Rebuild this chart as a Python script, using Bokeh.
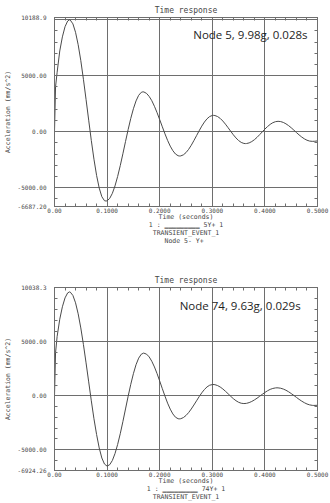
from bokeh.plotting import figure
from bokeh.models import Range1d, FixedTicker, LinearAxis, Label, CustomJSTickFormatter
from bokeh.layouts import column
from bokeh.embed import file_html
from bokeh.resources import INLINE

# ---------------- data ----------------
x_ticks = [0.0, 0.1, 0.2, 0.3, 0.4, 0.5]
x_tick_labels = ["0.00", "0.1000", "0.2000", "0.3000", "0.4000", "0.5000"]
x_minor = [0.02, 0.04, 0.06, 0.08, 0.12, 0.14, 0.16, 0.18, 0.22, 0.24, 0.26, 0.28,
           0.32, 0.34, 0.36, 0.38, 0.42, 0.44, 0.46, 0.48]
y_grid = [-5000, 0, 5000, 10000]
y_minor = [-6000, -4000, -3000, -2000, -1000, 1000, 2000, 3000, 4000, 6000, 7000, 8000, 9000]

y_ticks_node5 = [-6687.2, -5000, 0, 5000, 10188.9]
y_labels_node5 = ["-6687.20", "-5000.00", "0.00", "5000.00", "10188.9"]
y_ticks_node74 = [-6924.26, -5000, 0, 5000, 10038.3]
y_labels_node74 = ["-6924.26", "-5000.00", "0.00", "5000.00", "10038.3"]

time_node5 = [0, 0.002, 0.005, 0.010, 0.015, 0.020, 0.025, 0.0285, 0.030, 0.035, 0.040, 0.045,
              0.050, 0.055, 0.060, 0.065, 0.070, 0.075, 0.080, 0.085, 0.090, 0.095, 0.098, 0.100,
              0.105, 0.110, 0.115, 0.120, 0.125, 0.130, 0.135, 0.140, 0.145, 0.150, 0.155, 0.160,
              0.165, 0.168, 0.170, 0.175, 0.180, 0.185, 0.190, 0.195, 0.200, 0.205, 0.210, 0.215,
              0.220, 0.225, 0.230, 0.235, 0.238, 0.240, 0.245, 0.250, 0.255, 0.260, 0.265, 0.270,
              0.275, 0.280, 0.285, 0.290, 0.295, 0.300, 0.302, 0.305, 0.310, 0.315, 0.320, 0.325,
              0.330, 0.335, 0.340, 0.345, 0.350, 0.355, 0.360, 0.363, 0.365, 0.370, 0.375, 0.380,
              0.385, 0.390, 0.395, 0.400, 0.405, 0.410, 0.415, 0.420, 0.425, 0.430, 0.435, 0.440,
              0.445, 0.450, 0.455, 0.460, 0.465, 0.470, 0.475, 0.480, 0.485, 0.490, 0.495, 0.500]
accel_node5 = [0, 4000, 5300, 7200, 8460, 9365, 9875, 9980, 9960, 9620, 8870, 7760,
               6340, 4670, 2870, 1020, -800, -2460, -3910, -5040, -5810, -6170, -6200, -6180,
               -5960, -5510, -4850, -4010, -3040, -1980, -890, 180, 1180, 2040, 2740, 3240,
               3510, 3550, 3540, 3410, 3140, 2760, 2260, 1690, 1070, 430, -200, -785,
               -1295, -1705, -2000, -2155, -2180, -2170, -2075, -1875, -1585, -1220, -805, -365,
               75, 490, 855, 1145, 1345, 1440, 1450, 1435, 1345, 1180, 945, 665,
               350, 30, -285, -565, -800, -965, -1055, -1070, -1065, -1010, -890, -725,
               -515, -275, -25, 225, 450, 645, 795, 885, 920, 895, 820, 695,
               535, 345, 135, -85, -295, -485, -645, -770, -845, -870, -860, -830]

time_node74 = [0, 0.002, 0.005, 0.010, 0.015, 0.020, 0.025, 0.0285, 0.030, 0.035, 0.040, 0.045,
               0.050, 0.055, 0.060, 0.065, 0.070, 0.075, 0.080, 0.085, 0.090, 0.095, 0.100, 0.105,
               0.110, 0.115, 0.120, 0.125, 0.130, 0.135, 0.140, 0.145, 0.150, 0.155, 0.160, 0.165,
               0.1695, 0.175, 0.180, 0.185, 0.190, 0.195, 0.200, 0.205, 0.210, 0.215, 0.220, 0.225,
               0.230, 0.235, 0.237, 0.240, 0.245, 0.250, 0.255, 0.260, 0.265, 0.270, 0.275, 0.280,
               0.285, 0.290, 0.295, 0.301, 0.305, 0.310, 0.315, 0.320, 0.325, 0.330, 0.335, 0.340,
               0.345, 0.350, 0.355, 0.360, 0.365, 0.370, 0.375, 0.380, 0.385, 0.390, 0.395, 0.400,
               0.405, 0.410, 0.415, 0.420, 0.423, 0.425, 0.430, 0.435, 0.440, 0.445, 0.450, 0.455,
               0.460, 0.465, 0.470, 0.475, 0.480, 0.485, 0.490, 0.493, 0.500]
accel_node74 = [0, 4000, 5500, 7100, 8250, 9075, 9535, 9630, 9610, 9300, 8620, 7600,
                6290, 4750, 3055, 1290, -465, -2125, -3585, -4835, -5765, -6325, -6520, -6385,
                -5995, -5360, -4520, -3515, -2395, -1220, -50, 1065, 2050, 2880, 3490, 3855,
                3960, 3860, 3605, 3200, 2675, 2055, 1370, 660, -30, -680, -1235, -1680,
                -1985, -2125, -2140, -2125, -2020, -1825, -1555, -1225, -855, -465, -80, 275,
                585, 825, 980, 1050, 1030, 950, 815, 635, 420, 190, -45, -265,
                -455, -600, -690, -720, -700, -630, -525, -385, -225, -45, 135, 310,
                465, 595, 680, 730, 740, 735, 700, 625, 515, 375, 210, 35,
                -150, -330, -495, -640, -760, -840, -885, -893, -880]

# ---------------- styling ----------------
MONO = "DejaVu Sans Mono"
TXT = "#474747"
GRID = "#6e6e6e"
CURVE = "#4a4a4a"
LEFT, RIGHT = 52, 13
PX_PER_S = 530.0
RULE = "\u2581" * 9   # legend line sample drawn with a low bar glyph


def label_formatter(vals, labels):
    return CustomJSTickFormatter(
        args=dict(tvals=vals, tlabels=labels),
        code="const i = tvals.findIndex(v => Math.abs(v - tick) < 1e-6); return i >= 0 ? tlabels[i] : '';")


def blank_formatter():
    return CustomJSTickFormatter(code="return '';")


def make_chart(t, a, y_ticks, y_labels, fig_h, frame_top, frame_h, title_standoff,
               x_label_lines, note, note_px, note_py):
    y_lo, y_hi = y_ticks[0], y_ticks[-1]
    scale = (y_hi - y_lo) / frame_h

    p = figure(width=330, height=fig_h, output_backend="svg", toolbar_location=None,
               x_range=Range1d(0, 0.5), y_range=Range1d(y_lo, y_hi),
               x_axis_location=None, y_axis_location=None,
               min_border_left=LEFT, min_border_right=RIGHT,
               min_border_top=frame_top, min_border_bottom=fig_h - frame_top - frame_h)
    p.outline_line_color = GRID
    p.outline_line_width = 1
    p.background_fill_color = "white"
    p.border_fill_color = "white"

    p.title.text = "Time response"
    p.title.align = "center"
    p.title.vertical_align = "top"
    p.title.text_font = MONO
    p.title.text_font_size = "8px"
    p.title.text_font_style = "normal"
    p.title.text_color = TXT
    p.title.standoff = title_standoff

    def style_axis(ax):
        ax.axis_line_color = GRID
        ax.major_tick_line_color = GRID
        ax.minor_tick_line_color = GRID
        ax.major_tick_in = 3
        ax.major_tick_out = 0
        ax.minor_tick_in = 3
        ax.minor_tick_out = 0
        ax.major_label_text_font = MONO
        ax.major_label_text_font_size = "6px"
        ax.major_label_text_color = TXT

    xt = FixedTicker(ticks=x_ticks, minor_ticks=x_minor)
    yt = FixedTicker(ticks=y_ticks, minor_ticks=y_minor)

    left = LinearAxis(ticker=yt, formatter=label_formatter(y_ticks, y_labels),
                      axis_label="Acceleration (mm/s^2)")
    style_axis(left)
    left.major_label_standoff = 8
    left.axis_label_text_font = MONO
    left.axis_label_text_font_size = "6.5px"
    left.axis_label_text_font_style = "normal"
    left.axis_label_text_color = TXT
    left.axis_label_standoff = 3
    p.add_layout(left, "left")

    below = LinearAxis(ticker=xt, formatter=label_formatter(x_ticks, x_tick_labels),
                       axis_label="\n".join(x_label_lines))
    style_axis(below)
    below.major_label_standoff = 1
    below.axis_label_text_font = MONO
    below.axis_label_text_font_size = "6.5px"
    below.axis_label_text_font_style = "normal"
    below.axis_label_text_color = TXT
    below.axis_label_text_line_height = 1.0
    below.axis_label_standoff = -3
    p.add_layout(below, "below")

    above = LinearAxis(ticker=xt, formatter=blank_formatter())
    style_axis(above)
    above.major_label_standoff = 0
    above.major_label_text_font_size = "1px"
    p.add_layout(above, "above")

    right = LinearAxis(ticker=yt, formatter=blank_formatter())
    style_axis(right)
    right.major_label_standoff = 0
    right.major_label_text_font_size = "1px"
    p.add_layout(right, "right")

    p.xgrid.ticker = FixedTicker(ticks=[0.1, 0.2, 0.3, 0.4])
    p.ygrid.ticker = FixedTicker(ticks=y_grid)
    for g in (p.xgrid, p.ygrid):
        g.grid_line_color = GRID
        g.grid_line_width = 1
        g.grid_line_alpha = 1.0

    p.line(t, a, line_color=CURVE, line_width=1)

    # annotation inside the frame
    p.add_layout(Label(x=(note_px - LEFT) / PX_PER_S, y=y_hi - (note_py - frame_top) * scale,
                       text=note, text_align="right", text_baseline="middle",
                       text_font="Open Sans", text_font_size="11.5px", text_color="#1e1e1e"))
    return p


top_lines = ["Time (seconds)", "1 : " + RULE + " 5Y+ 1", "TRANSIENT_EVENT_1", "Node 5-  Y+"]
p1 = make_chart(time_node5, accel_node5, y_ticks_node5, y_labels_node5,
                255, 17, 189, 2, top_lines, "Node 5, 9.98g, 0.028s", 307, 33.5)

bottom_lines = ["Time (seconds)", "1 : " + RULE + " 74Y+ 1", "TRANSIENT_EVENT_1"]
p2 = make_chart(time_node74, accel_node74, y_ticks_node74, y_labels_node74,
                248, 32, 190, 0.5, bottom_lines, "Node 74, 9.63g, 0.029s", 300, 305.7 - 255)

layout = column(p1, p2)

open("out.html", "w").write(file_html(layout, INLINE))
